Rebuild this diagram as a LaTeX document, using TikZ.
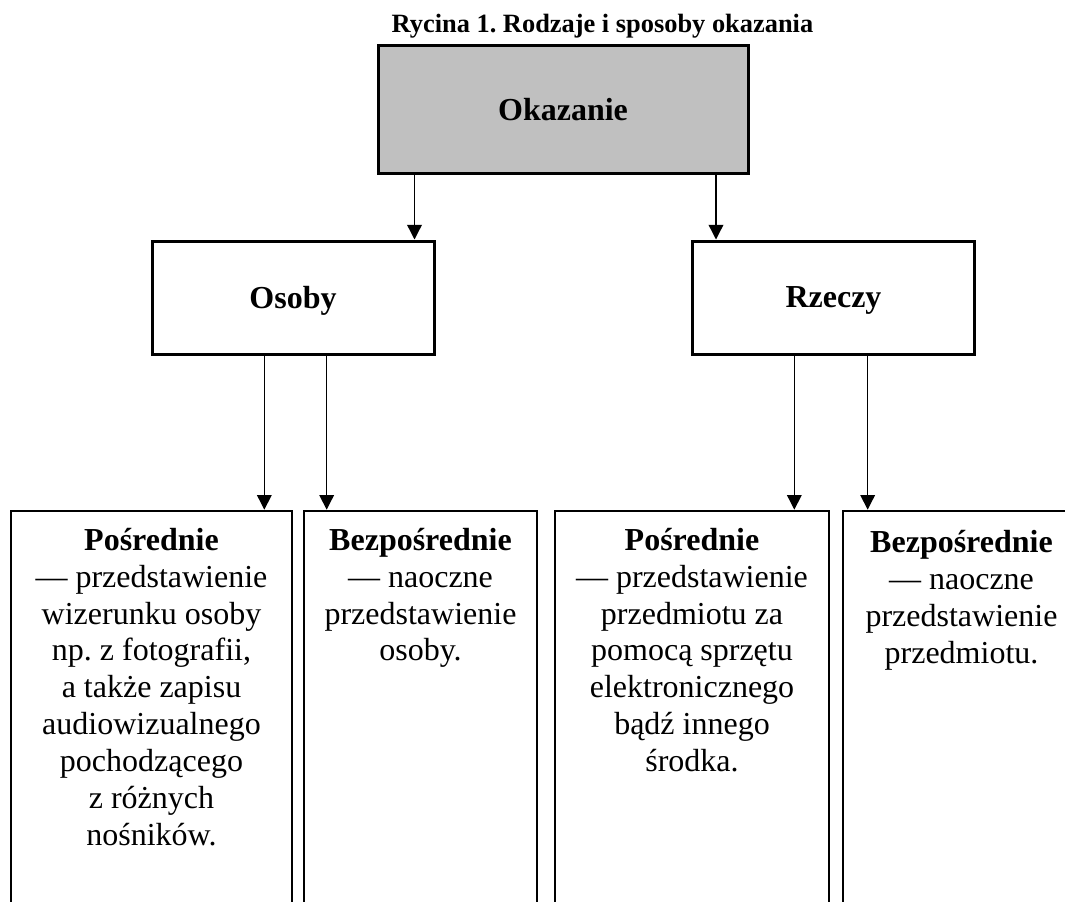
\documentclass[tikz,border=0pt]{standalone}
\usepackage{fontspec}
\setmainfont{Liberation Serif}
\usepackage{tikz}
\usetikzlibrary{arrows.meta}
\definecolor{okazgray}{HTML}{C0C0C0}
\frenchspacing
\tikzset{
  headbox/.style={draw,line width=2.25pt,fill=okazgray,minimum width=277.5pt,minimum height=96pt,
    inner sep=0pt,text depth=0pt,font=\fontsize{24}{27.7}\selectfont\bfseries},
  kindbox/.style={draw,line width=2.25pt,minimum width=211.5pt,minimum height=84.75pt,
    inner sep=0pt,text depth=0pt,font=\fontsize{24}{27.7}\selectfont\bfseries},
  waybox/.style={draw,line width=2pt,minimum height=375pt,inner sep=0pt},
  waytext/.style={anchor=north,inner sep=0pt,align=center,font=\fontsize{24}{27.7}\selectfont},
  arr/.style={line width=1pt,-{Triangle[width=11pt,length=11pt]}},
}

\begin{document}
\begin{tikzpicture}[x=0.75pt,y=-0.75pt]
  \useasboundingbox (0,0) rectangle (1065,901);
  \clip (0,0) rectangle (1065,901);
  \node[anchor=base,font=\fontsize{19.8}{24}\selectfont\bfseries] (title) at (602.5,32) {Rycina 1. Rodzaje i sposoby okazania};
  \node[headbox] (okaz) at (563,109) {Okazanie};
  \node[kindbox] (osoby) at (293,297.5) {Osoby};
  \node[kindbox] (rzeczy) at (833.5,297.5) {Rzeczy};
  \node[waybox,minimum width=210.75pt] (pos1) at (151.5,761) {};
  \node[waybox,minimum width=174.75pt] (bez1) at (420.5,761) {};
  \node[waybox,minimum width=205.5pt] (pos2) at (692,761) {};
  \node[waybox,minimum width=177.75pt] (bez2) at (961.5,761) {};
  \node[waytext] (pos1txt) at ([yshift=-13.5pt]pos1.north) {\textbf{Pośrednie}\\— przedstawienie\\wizerunku osoby\\np. z fotografii,\\a także zapisu\\audiowizualnego\\pochodzącego\\z różnych\\nośników.};
  \node[waytext] (bez1txt) at ([yshift=-13.5pt]bez1.north) {\textbf{Bezpośrednie}\\— naoczne\\przedstawienie\\osoby.};
  \node[waytext] (pos2txt) at ([yshift=-13.5pt]pos2.north) {\textbf{Pośrednie}\\— przedstawienie\\przedmiotu za\\pomocą sprzętu\\elektronicznego\\bądź innego\\środka.};
  \node[waytext] (bez2txt) at ([yshift=-15.5pt]bez2.north) {\textbf{Bezpośrednie}\\— naoczne\\przedstawienie\\przedmiotu.};
  \draw[arr] ([xshift=-15.75pt]okaz.south -| osoby.north east) -- ([xshift=-15.75pt]osoby.north east);
  \draw[arr] ([xshift=18.75pt]okaz.south -| rzeczy.north west) -- ([xshift=18.75pt]rzeczy.north west);
  \draw[arr] ([xshift=-21.75pt]osoby.south -| pos1.north east) -- ([xshift=-21.75pt]pos1.north east);
  \draw[arr] ([xshift=18pt]osoby.south -| bez1.north west) -- ([xshift=18pt]bez1.north west);
  \draw[arr] ([xshift=-27pt]rzeczy.south -| pos2.north east) -- ([xshift=-27pt]pos2.north east);
  \draw[arr] ([xshift=19.5pt]rzeczy.south -| bez2.north west) -- ([xshift=19.5pt]bez2.north west);
\end{tikzpicture}
\end{document}
